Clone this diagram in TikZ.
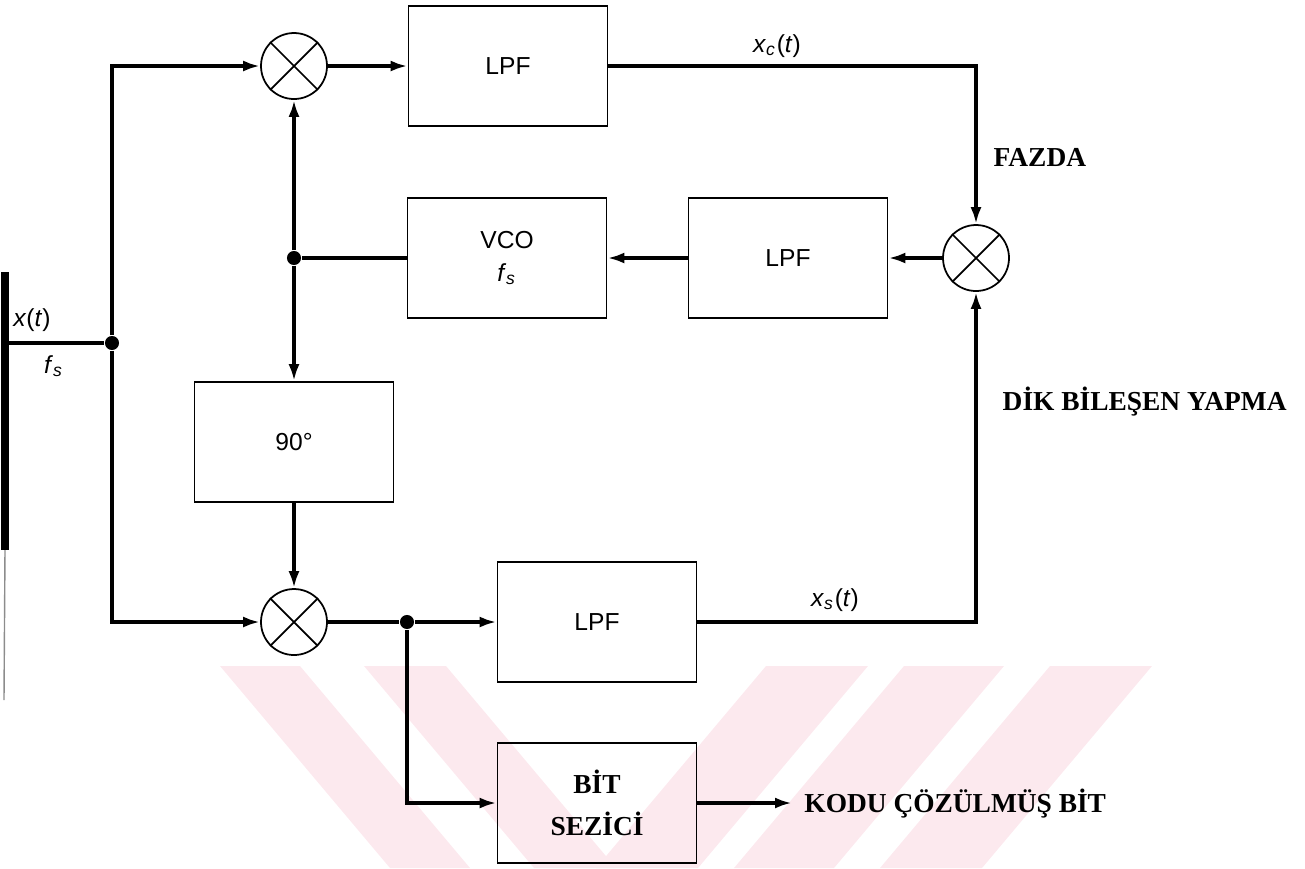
\documentclass[tikz,border=0pt]{standalone}
\usepackage{fontspec}
\setmainfont{Liberation Serif}
\setsansfont{Liberation Sans}
\usetikzlibrary{arrows.meta}

\tikzset{
  blok/.style={draw, line width=0.5pt, minimum width=1.99cm, minimum height=1.2cm,
    align=center, font=\sffamily\fontsize{7}{8.5}\selectfont},
  carpan/.style={draw, circle, line width=0.5pt, minimum size=0.66cm, inner sep=0pt},
  nokta/.style={circle, fill, inner sep=0pt, minimum size=4pt},
  hat/.style={line width=1.1pt},
  ok/.style={hat, -{Latex[length=1.7mm,width=1.1mm]}},
  etiket/.style={font=\sffamily\fontsize{7}{8.5}\selectfont},
  kalin/.style={font=\bfseries\fontsize{7.8}{12}\selectfont},
  filigran/.style={fill={rgb,255:red,252;green,233;blue,238}}
}

\begin{document}
\begin{tikzpicture}
  \useasboundingbox (0,0) rectangle (13.05,-8.68);

  \fill[filigran] (2.20,-6.66) -- (3.00,-6.66) -- (4.70,-8.68) -- (3.90,-8.68) -- cycle;
  \fill[filigran] (3.64,-6.66) -- (4.46,-6.66) -- (6.16,-8.68) -- (5.34,-8.68) -- cycle;
  \fill[filigran] (7.66,-6.66) -- (8.68,-6.66) -- (6.98,-8.68) -- (5.96,-8.68) -- cycle;
  \fill[filigran] (9.04,-6.66) -- (10.04,-6.66) -- (8.34,-8.68) -- (7.34,-8.68) -- cycle;
  \fill[filigran] (10.50,-6.66) -- (11.52,-6.66) -- (9.82,-8.68) -- (8.80,-8.68) -- cycle;

  \coordinate (cubukust) at (0.05,-2.72);
  \coordinate (cubukalt) at (0.05,-5.50);
  \coordinate (cubukuc) at (0.04,-7.00);
  \coordinate (giris) at (0.08,-3.43);

  \node[carpan] (m1) at (2.94,-0.66) {};
  \node[carpan] (m2) at (2.94,-6.22) {};
  \node[carpan] (m3) at (9.76,-2.58) {};
  \foreach \m in {m1,m2,m3}
    \draw[line width=0.5pt] (\m.45)--(\m.225) (\m.135)--(\m.315);

  \node[blok] (lpf1) at (5.08,-0.66) {LPF};
  \node[blok] (vco) at (5.07,-2.58) {VCO\\[1pt]\textit{f}\textsubscript{\textit{s}}};
  \node[blok] (lpf2) at (7.88,-2.58) {LPF};
  \node[blok] (faz) at (2.94,-4.42) {90°};
  \node[blok] (lpf3) at (5.97,-6.22) {LPF};
  \node[blok, kalin] (bit) at (5.97,-8.03) {BİT\\SEZİCİ};

  \node[nokta] (j1) at (1.12,-3.43) {};
  \node[nokta] (j2) at (2.94,-2.58) {};
  \node[nokta] (j3) at (4.07,-6.22) {};

  \node[etiket] (xt) at (0.32,-3.20) {\textit{x}(\textit{t})};
  \node[etiket] (fs) at (0.54,-3.66) {\textit{f}\textsubscript{\textit{s}}};
  \node[etiket] (xc) at (7.77,-0.46) {\textit{x}\textsubscript{\textit{c}}(\textit{t})};
  \node[etiket] (xs) at (8.35,-6.00) {\textit{x}\textsubscript{\textit{s}}(\textit{t})};
  \node[kalin, anchor=west, inner sep=0pt] (fazda) at (9.93,-1.57) {FAZDA};
  \node[kalin, anchor=west, inner sep=0pt] (dik) at (10.02,-4.02) {DİK BİLEŞEN YAPMA};
  \node[kalin, anchor=west] (cikis) at (7.92,-8.04) {KODU ÇÖZÜLMÜŞ BİT};

  \draw[line width=2.5pt] (cubukust) -- (cubukalt);
  \draw[line width=0.4pt, black!45] (cubukalt) -- (cubukuc);
  \draw[hat] (giris) -- (j1);
  \draw[ok] (j1) |- (m1.west);
  \draw[ok] (j1) |- (m2.west);
  \draw[ok] (m1.east) -- (lpf1.west);
  \draw[ok] (lpf1.east) -| (m3.north);
  \draw[ok] (m3.west) -- (lpf2.east);
  \draw[ok] (lpf2.west) -- (vco.east);
  \draw[hat] (vco.west) -- (j2);
  \draw[ok] (j2) -- (m1.south);
  \draw[ok] (j2) -- (faz.north);
  \draw[ok] (faz.south) -- (m2.north);
  \draw[hat] (m2.east) -- (j3);
  \draw[ok] (j3) -- (lpf3.west);
  \draw[ok] (lpf3.east) -| (m3.south);
  \draw[ok] (j3) |- (bit.west);
  \draw[ok] (bit.east) -- (bit.east -| cikis.west);
\end{tikzpicture}
\end{document}
